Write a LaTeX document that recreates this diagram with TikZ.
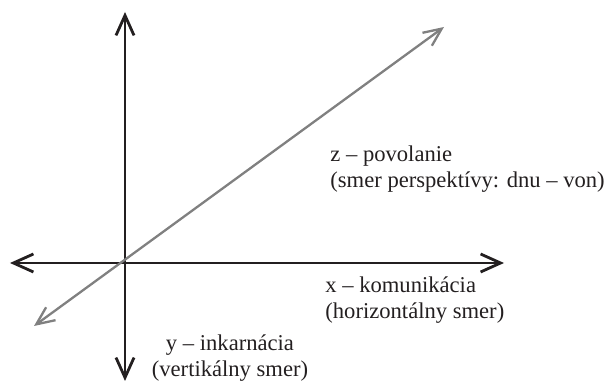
\documentclass[tikz,border=0pt]{standalone}
\usepackage{fontspec}
\setmainfont{Liberation Serif}
\usetikzlibrary{arrows.meta,positioning}
\definecolor{axisline}{HTML}{231F20}
\definecolor{zline}{HTML}{808080}
\definecolor{labeltext}{HTML}{231F20}
\begin{document}
\begin{tikzpicture}[
 x=0.5pt,y=-0.5pt,
 font=\fontsize{11.3}{13}\selectfont,
 axis/.style={{Straight Barb[length=10pt,width=9pt,line width=1.4pt]}-{Straight Barb[length=10pt,width=9pt,line width=1.4pt]},line width=1.4pt,axisline},
 zaxis/.style={{Straight Barb[length=9pt,width=8pt,line width=1.15pt]}-{Straight Barb[length=9pt,width=8pt,line width=1.15pt]},line width=1.15pt,zline},
 lbl/.style={text=labeltext,inner sep=0pt}]
\useasboundingbox (0,0) rectangle (611,383);
\coordinate (yt) at (125,12);
\coordinate (yb) at (125,381);
\coordinate (xl) at (10,263);
\coordinate (xr) at (504,263);
\coordinate (zl) at (34,326);
\coordinate (zr) at (444,27);
\draw[axis] (yb)--(yt);
\draw[axis] (xl)--(xr);
\draw[zaxis] (zl)--(zr);
\node[lbl,anchor=north west,align=left] (zlab) at (330,145)
  {z – povolanie\\(smer perspektívy: dnu – von)};
\node[lbl,anchor=north west,align=left] (xlab) at (325,276)
  {x – komunikácia\\(horizontálny smer)};
\node[lbl,anchor=north,align=center] (ylab) at (230,334)
  {y – inkarnácia\\(vertikálny smer)};
\end{tikzpicture}
\end{document}
